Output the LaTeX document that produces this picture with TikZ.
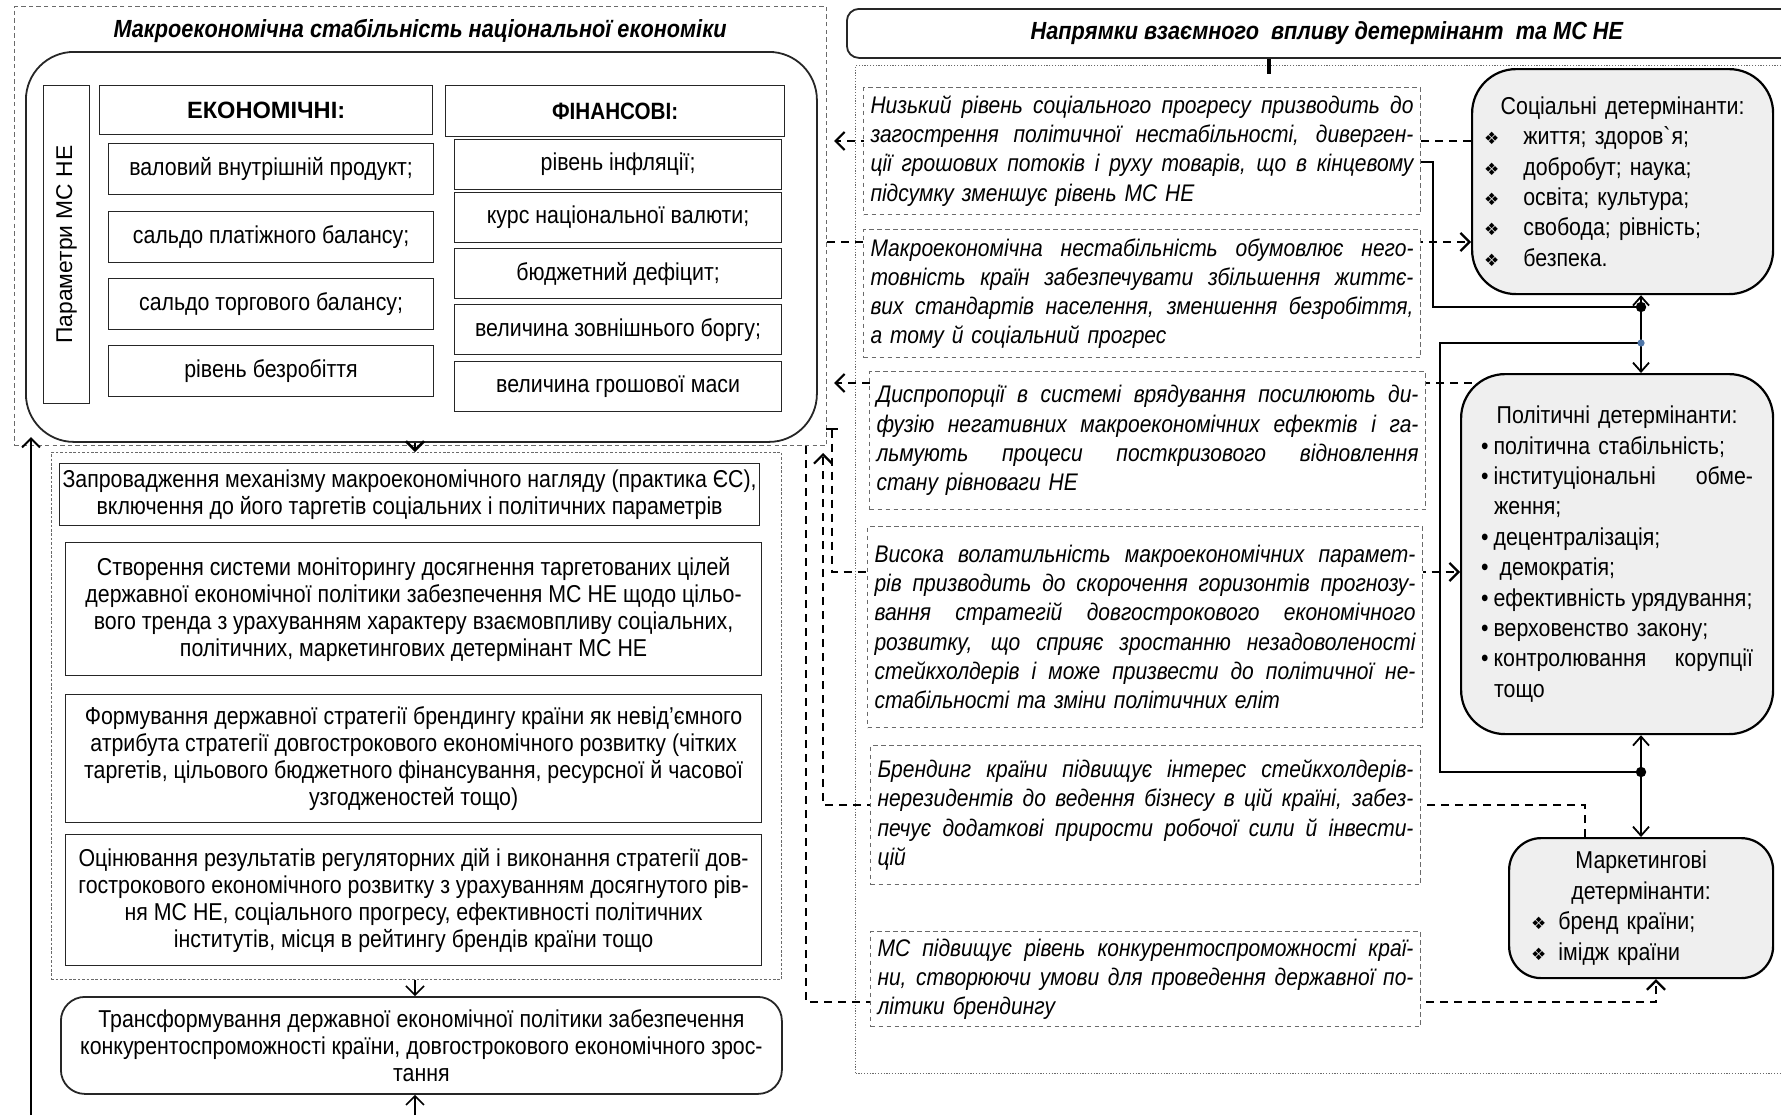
\documentclass[tikz,border=0pt]{standalone}
\usepackage{fontspec}
\setmainfont{Liberation Sans}[FakeStretch=0.875]
\newfontfamily\widesans{Liberation Sans}
\newfontfamily\symfont{DejaVu Sans}
\usetikzlibrary{arrows.meta, calc}
\definecolor{detfill}{HTML}{EFEFEF}
\definecolor{framegray}{HTML}{6A6A6A}
\definecolor{dotblue}{HTML}{4F76A8}

\newcommand\bodysize{\fontsize{12.2}{13.5}\selectfont}
\newcommand\notesize{\fontsize{12}{14.6}\selectfont}
\newcommand\detsize{\fontsize{12.2}{15.2}\selectfont}
\newcommand\jline[1]{{\spaceskip=\fontdimen2\font plus 1fil\relax\makebox[\hsize][s]{#1}}}
\newcommand\cenline[1]{\makebox[\hsize][c]{#1}}
\newcommand\dia[1][6pt]{{\symfont\fontsize{8.5}{10}\selectfont ❖}\hspace{#1}}
\newcommand\bul{•\hspace{2.5pt}}

\begin{document}
\begin{tikzpicture}[
    x=0.5pt, y=-0.5pt,
    every node/.style={font=\bodysize},
    heading/.style={font=\fontsize{12.4}{14}\selectfont\bfseries\itshape},
    frameL/.style={draw=framegray, line width=0.5pt, dash pattern=on 2.2pt off 1.6pt, anchor=north west, inner sep=0pt},
    frameD/.style={draw=framegray, line width=0.45pt, dash pattern=on 1.3pt off 0.9pt, anchor=north west, inner sep=0pt},
    frameR/.style={draw=framegray, line width=0.6pt, dash pattern=on 0.6pt off 0.8pt, anchor=north west, inner sep=0pt},
    cell/.style={draw=black!85, line width=0.6pt, anchor=north west, align=center, inner sep=2pt},
    note/.style={draw=framegray, line width=0.5pt, dash pattern=on 2.4pt off 1.6pt, fill=white,
        anchor=north west, align=left, inner xsep=3.5pt, inner ysep=2pt, font=\notesize\itshape},
    det/.style={draw=black, line width=1.1pt, fill=detfill, anchor=north west, align=left, font=\detsize},
    link/.style={line width=1.1pt, dash pattern=on 4pt off 3pt},
    tie/.style={line width=0.9pt},
    arr/.style={-{Straight Barb[length=4.5pt,width=9pt]}},
    darr/.style={{Straight Barb[length=4.5pt,width=8pt]}-{Straight Barb[length=4.5pt,width=8pt]}},
]
\useasboundingbox (0,0) rectangle (1781,1115);
\clip (0,0) rectangle (1781,1115);

% columns and bends of the connectors
\coordinate (ax) at (415,0);
\coordinate (vx) at (1641,0);
\coordinate (j1) at (1641,307);
\coordinate (j2) at (1641,343);
\coordinate (j3) at (1641,772);
\coordinate (ka) at (1433,162);
\coordinate (kb) at (1440,343);
\coordinate (ya) at (0,141);
\coordinate (yb) at (0,242);
\coordinate (yd) at (0,572);
\coordinate (dtop) at (832,428);
\coordinate (ecol) at (1585,0);
\coordinate (ecorner) at (823,805);
\coordinate (etop) at (823,453);
\coordinate (fcol) at (806,0);
\coordinate (fcorner) at (1656,1002);
\coordinate (inbot) at (415,1115);
\coordinate (lbot) at (31,1115);
\coordinate (ltop) at (31,437);
\coordinate (tk) at (1269,0);

% left half: parameters of macroeconomic stability
\node[frameL, minimum width=406pt, minimum height=219.5pt] (msframe) at (14,6) {};
\node[heading] (mstitle) at (420,31) {Макроекономічна стабільність національної економіки};
\node[cell, rounded corners=24pt, line width=0.9pt, minimum width=395.5pt, minimum height=195pt] (msbox) at (25,51) {};
\node[cell, minimum width=23pt, minimum height=159pt] (param) at (43,85) {};
\node[rotate=90, font=\fontsize{11.4}{13}\selectfont\widesans] (paramtxt) at (param) {Параметри МС НЕ};
\node[cell, minimum width=166.5pt, minimum height=24.5pt, font=\fontsize{11.8}{13}\selectfont\widesans\bfseries] (econ) at (99,85) {ЕКОНОМІЧНІ:};
\node[cell, minimum width=169.5pt, minimum height=25.5pt, font=\fontsize{11.8}{13}\selectfont\bfseries] (fin) at (445,85) {ФІНАНСОВІ:};
\foreach \y/\lbl [count=\i] in {143/{валовий внутрішній продукт;}, 211/{сальдо платіжного балансу;},
    278/{сальдо торгового балансу;}, 345/{рівень безробіття}}{
    \node[cell, minimum width=162.5pt, minimum height=25.5pt] (econ\i) at (108,\y) {\lbl};
}
\foreach \y/\lbl [count=\i] in {139/{рівень інфляції;}, 192/{курс національної валюти;}, 248/{бюджетний дефіцит;},
    304/{величина зовнішнього боргу;}, 361/{величина грошової маси}}{
    \node[cell, minimum width=163.5pt, minimum height=25pt] (fin\i) at (454,\y) {\lbl};
}

% measures
\node[frameD, minimum width=365pt, minimum height=263.5pt] (frame2) at (51,452) {};
\node[cell, minimum width=350pt, minimum height=31pt, inner sep=0.5pt] (m1) at (59,463)
    {Запровадження механізму макроекономічного нагляду (практика ЄС),\\
     включення до його таргетів соціальних і політичних параметрів};
\node[cell, minimum width=348pt, minimum height=66.5pt] (m2) at (65,542)
    {Створення системи моніторингу досягнення таргетованих цілей\\
     державної економічної політики забезпечення МС НЕ щодо цільо-\\
     вого тренда з урахуванням характеру взаємовпливу соціальних,\\
     політичних, маркетингових детермінант МС НЕ};
\node[cell, minimum width=348pt, minimum height=64pt] (m3) at (65,694)
    {Формування державної стратегії брендингу країни як невід’ємного\\
     атрибута стратегії довгострокового економічного розвитку (чітких\\
     таргетів, цільового бюджетного фінансування, ресурсної й часової\\
     узгодженостей тощо)};
\node[cell, minimum width=348pt, minimum height=65.5pt] (m4) at (65,834)
    {Оцінювання результатів регуляторних дій і виконання стратегії дов-\\
     гострокового економічного розвитку з урахуванням досягнутого рів-\\
     ня МС НЕ, соціального прогресу, ефективності політичних\\
     інститутів, місця в рейтингу брендів країни тощо};
\node[cell, rounded corners=12pt, line width=0.9pt, minimum width=360.5pt, minimum height=48.5pt, inner sep=1pt] (result) at (60,996)
    {Трансформування державної економічної політики забезпечення\\
     конкурентоспроможності країни, довгострокового економічного зрос-\\
     тання};

\draw[arr, line width=1.3pt] (msbox.south -| ax) -- (frame2.north -| ax);
\draw[arr, line width=0.8pt] (frame2.south -| ax) -- (result.north -| ax);
\draw[arr, line width=0.8pt] (inbot) -- (result.south -| ax);
\draw[arr, line width=1pt] (lbot) -- (ltop);

% right half: determinants
\node[cell, rounded corners=6pt, line width=0.9pt, minimum width=480pt, minimum height=24.5pt, heading] (dirtitle) at (846,8)
    {Напрямки взаємного~ впливу детермінант~ та МС НЕ};
\node[frameR, minimum width=475pt, minimum height=504pt] (frameR) at (855,65) {};
\draw[line width=2.2pt, shorten >=-4.5pt] (dirtitle.south -| tk) -- (frameR.north -| tk);

\node[det, rounded corners=22pt, minimum width=150.5pt, minimum height=112.5pt, inner xsep=6pt, text width=138.5pt] (social) at (1471,68)
    {\cenline{Соціальні детермінанти:}\\
     \dia[12pt]життя; здоров\textasciigrave я;\\
     \dia[12pt]добробут; наука;\\
     \dia[12pt]освіта; культура;\\
     \dia[12pt]свобода; рівність;\\
     \dia[12pt]безпека.};
\node[det, rounded corners=22pt, minimum width=156pt, minimum height=180pt, inner xsep=10pt, text width=136pt] (pol) at (1460,373)
    {\cenline{Політичні детермінанти:}\\
     \bul політична стабільність;\\
     \jline{\bul інституціональні обме-}\\
     \hspace*{6.5pt}ження;\\
     \bul децентралізація;\\
     •\hspace{5.5pt}демократія;\\
     \bul ефективність\hspace{3pt}урядування;\\
     \bul верховенство закону;\\
     \jline{\bul контролювання корупції}\\
     \hspace*{6.5pt}тощо};
\node[det, rounded corners=16pt, minimum width=132pt, minimum height=70pt, inner xsep=11pt, text width=110pt] (mkt) at (1508,837)
    {\cenline{Маркетингові}\\
     \cenline{детермінанти:}\\
     \dia бренд країни;\\
     \dia імідж країни};

\draw[tie, darr] (social.south -| vx) -- (pol.north -| vx);
\draw[tie, darr] (pol.south -| vx) -- (mkt.north -| vx);

% dashed links, drawn under the notes
\draw[link, arr, shorten >=3.5pt] (social.west |- ya) -- (msframe.east |- ya);
\draw[link, arr] (msframe.east |- yb) -- (social.west |- yb);
\draw[link, arr, shorten >=3.5pt] ($(pol.north west)+(12,10)$) coordinate (pc) -- (msframe.east |- pc);
\draw[link, {Bar[width=6pt]}-{Straight Barb[length=4.5pt,width=9pt]}] (dtop) |- (pol.west |- yd);
\draw[link, arr] (mkt.north -| ecol) |- (ecorner) -- (etop);
\draw[link, arr] (msframe.south -| fcol) |- (fcorner) -- (mkt.south -| fcorner);

% notes
\node[note, minimum width=278.5pt, minimum height=63.5pt, text width=271.5pt] (t1) at (863,87)
    {\jline{Низький рівень соціального прогресу призводить до}\\
     \jline{загострення політичної нестабільності, диверген-}\\
     \jline{ції грошових потоків і руху товарів, що в кінцевому}\\
     підсумку зменшує рівень МС НЕ};
\node[note, minimum width=278.5pt, minimum height=64pt, text width=271.5pt] (t2) at (863,229)
    {\jline{Макроекономічна нестабільність обумовлює него-}\\
     \jline{товність країн забезпечувати збільшення життє-}\\
     \jline{вих стандартів населення, зменшення безробіття,}\\
     а тому й соціальний прогрес};
\node[note, minimum width=278pt, minimum height=69pt, text width=271pt] (t3) at (869,371)
    {\jline{Диспропорції в системі врядування посилюють ди-}\\
     \jline{фузію негативних макроекономічних ефектів і га-}\\
     \jline{льмують процеси посткризового відновлення}\\
     стану рівноваги НЕ};
\node[note, minimum width=277.5pt, minimum height=100.5pt, text width=270.5pt] (t4) at (867,526)
    {\jline{Висока волатильність макроекономічних парамет-}\\
     \jline{рів призводить до скорочення горизонтів прогнозу-}\\
     \jline{вання стратегій довгострокового економічного}\\
     \jline{розвитку, що сприяє зростанню незадоволеності}\\
     \jline{стейкхолдерів і може призвести до політичної не-}\\
     стабільності та зміни політичних еліт};
\node[note, minimum width=275pt, minimum height=69.5pt, text width=268pt] (t5) at (870,745)
    {\jline{Брендинг країни підвищує інтерес стейкхолдерів-}\\
     \jline{нерезидентів до ведення бізнесу в цій країні, забез-}\\
     \jline{печує додаткові прирости робочої сили й інвести-}\\
     цій};
\node[note, minimum width=275pt, minimum height=47.5pt, text width=268pt] (t6) at (870,931)
    {\jline{МС підвищує рівень конкурентоспроможності краї-}\\
     \jline{ни, створюючи умови для проведення державної по-}\\
     літики брендингу};

% solid ties to the junctions
\draw[tie] (t1.east |- ka) -- (ka) |- (j1);
\draw[tie] (j2) -- (kb) |- (j3);
\fill (j1) circle (2.6pt);
\fill (j3) circle (2.6pt);
\fill[dotblue] (j2) circle (1.8pt);
\end{tikzpicture}
\end{document}
